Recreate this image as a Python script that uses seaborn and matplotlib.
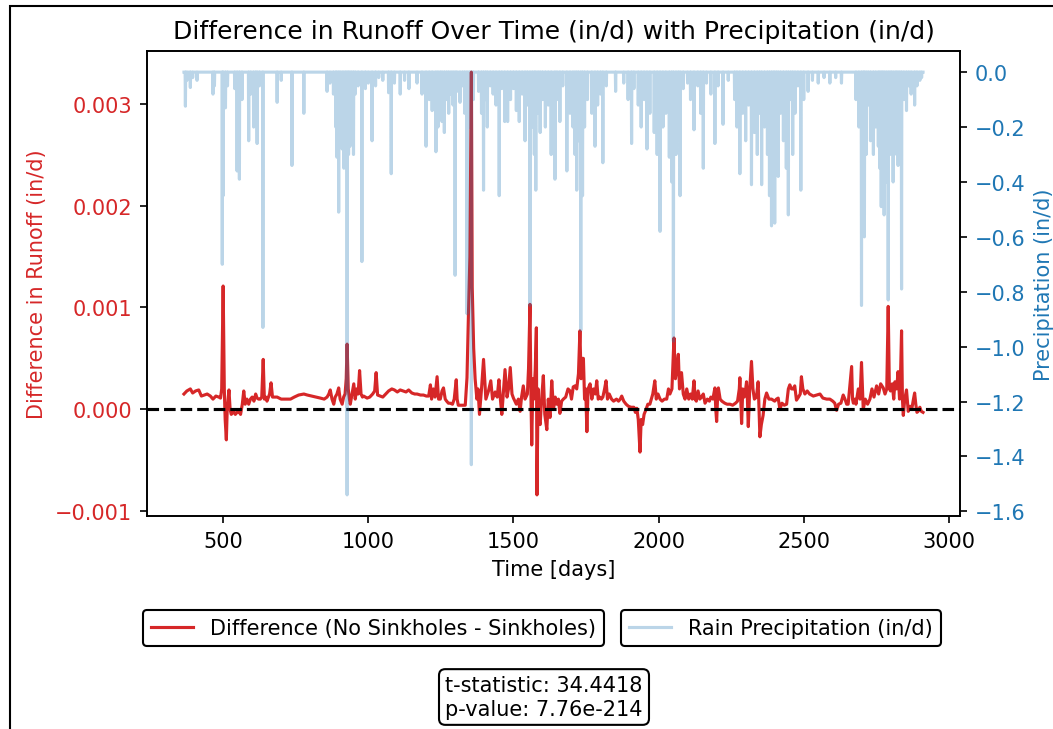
import numpy as np
import pandas as pd
import matplotlib
matplotlib.use('Agg')
import matplotlib.pyplot as plt
import seaborn as sns
from matplotlib.patches import Rectangle

# difference in runoff (no sinkholes - sinkholes), in units of 0.001 in/d
days_a = [365, 375, 387, 395, 405, 416, 425, 435, 445, 456,
          465, 475, 485, 491, 495, 500, 504, 507, 511, 514,
          517, 520, 524, 528, 531, 536, 542, 548, 554, 560,
          566, 571, 576, 582, 588, 594, 600, 606, 612, 617,
          622, 628, 633, 638, 642, 647, 651, 656, 660, 665,
          670, 676, 686, 700, 715, 732, 745, 760, 778, 790,
          805, 820, 835, 848, 858, 864, 869, 875, 881, 886,
          892, 898, 903, 910, 915, 920, 924, 927, 931, 935,
          938, 944, 950, 955, 960, 965, 970, 975, 980, 984,
          990]
vals_a = [.15, .18, .20, .16, .18, .19, .13, .14, .15, .13,
          .10, .13, .12, .11, .20, 1.21, .20, -.10, -.30, .00,
          .10, .19, .00, -.05, -.04, -.02, -.05, -.03, -.02, -.05,
          .05, .18, .05, .10, .05, .10, .12, .08, .15, .11,
          .10, .10, .12, .49, .10, .12, .08, .12, .15, .26,
          .12, .12, .12, .10, .10, .10, .12, .14, .15, .14,
          .13, .12, .11, .10, .12, .15, .19, .10, .05, .12,
          .15, .21, .10, .05, .12, .15, .30, .64, .20, .10,
          .05, .15, .25, .10, .20, .15, .38, .15, .12, .13,
          .12]

days_b = [996, 1005, 1015, 1022, 1027, 1032, 1041, 1050, 1060, 1070,
          1081, 1090, 1100, 1110, 1120, 1130, 1139, 1150, 1160, 1168,
          1180, 1190, 1200, 1208, 1214, 1218, 1224, 1230, 1237, 1242,
          1248, 1254, 1259, 1265, 1270, 1276, 1282, 1290, 1296, 1303,
          1306, 1310, 1318, 1326, 1334, 1340, 1345, 1350, 1355, 1358,
          1363, 1368, 1374, 1378]
vals_b = [.11, .12, .15, .18, .36, .14, .13, .12, .15, .18,
          .20, .19, .17, .19, .18, .17, .19, .16, .15, .15,
          .14, .14, .13, .13, .24, .10, .20, .12, .32, .10,
          .10, .18, .21, .10, .08, .06, .06, .05, .10, .29,
          .10, .04, .04, .04, .04, .31, .93, 1.5, 3.31, 1.2,
          .60, .30, .10, .20]

days_c = [1383, 1390, 1397, 1405, 1414, 1422, 1428, 1437, 1444, 1450,
          1455, 1460, 1465, 1471, 1478, 1483, 1489, 1495, 1500, 1510,
          1517, 1523, 1528, 1534, 1540, 1548, 1552, 1557, 1560, 1563,
          1567, 1570, 1575, 1579, 1581, 1585, 1588, 1592, 1597, 1603,
          1608, 1615, 1620, 1626, 1632, 1638, 1644, 1649]
vals_c = [-.05, .20, .49, .10, .18, .28, .10, .17, .12, .29,
          .10, -.05, .15, .39, .12, .20, .41, .15, .11, .05,
          .10, -.02, .12, .23, .10, .15, .40, 1.03, .20, -.35,
          .30, .10, .38, .80, -.84, .20, -.10, -.15, .10, .33,
          -.05, -.20, .10, -.08, .28, .00, .12, .05]

days_d = [1655, 1660, 1666, 1672, 1680, 1688, 1695, 1700, 1706, 1712,
          1718, 1724, 1729, 1733, 1737, 1741, 1745, 1749, 1753, 1757,
          1764, 1770, 1776, 1782, 1787, 1792, 1797, 1803, 1808, 1814,
          1819, 1824, 1830, 1838, 1845, 1855, 1862, 1868, 1873, 1880,
          1888, 1896, 1905, 1915, 1920, 1925, 1930, 1936, 1940, 1945,
          1950, 1957, 1963, 1970, 1975, 1980, 1987, 1992, 1998, 2005,
          2012, 2020, 2028, 2034]
vals_d = [.10, -.04, .08, .10, .12, .20, .18, .10, .22, .23,
          .20, .35, .77, .30, .50, .50, .10, .20, -.22, .20,
          .25, .10, .20, .15, .28, .10, .12, .10, .12, .20,
          .28, .10, .15, .10, .08, .10, .08, .10, .13, .08,
          .05, .03, .02, .02, -.03, .01, -.10, -.42, -.10, -.15,
          -.05, .00, .05, .05, .10, .15, .28, .10, .15, .10,
          .08, .10, .10, .20]

days_e = [2039, 2046, 2053, 2058, 2063, 2068, 2072, 2079, 2085, 2091,
          2097, 2104, 2110, 2116, 2122, 2126, 2130, 2136, 2142, 2148,
          2154, 2160, 2168, 2175, 2180, 2187, 2194, 2197, 2200, 2203,
          2206, 2212, 2218, 2228, 2236, 2246, 2255, 2265, 2272, 2278,
          2280, 2283, 2286, 2290, 2295, 2300, 2303, 2306, 2309, 2314,
          2320, 2325, 2330, 2337, 2343, 2346, 2349, 2354, 2360, 2366,
          2372]
vals_e = [.15, .20, .70, .30, .40, .54, .20, .36, .15, .10,
          .20, .10, .15, .10, .28, .10, .08, .18, .10, .12,
          .15, .06, .10, .08, .12, .10, .21, .00, -.12, .10,
          .21, .10, .08, .06, .05, .05, .04, .06, .08, .20,
          .31, .10, -.14, .20, .12, .20, .27, .10, -.17, .20,
          .47, .20, .10, .12, .27, .00, -.27, -.15, -.06, .10,
          .16]

days_f = [2380, 2389, 2400, 2406, 2412, 2418, 2425, 2433, 2441, 2447,
          2452, 2458, 2464, 2469, 2475, 2482, 2488, 2492, 2497, 2504,
          2512, 2520, 2533, 2545, 2556, 2566, 2579, 2590, 2600, 2607,
          2613, 2620, 2628, 2636, 2642, 2648, 2653, 2658, 2665, 2668,
          2671, 2676]
vals_f = [.10, .10, .08, .10, .11, .00, .06, .04, .05, .20,
          .24, .20, .20, .23, .09, .12, .15, .32, .20, .15,
          .18, .15, .13, .14, .15, .11, .10, .10, .08, .06,
          -.01, .05, .06, .14, .10, .05, .05, .20, .42, .10,
          .06, .10]

days_g = [2680, 2688, 2694, 2699, 2705, 2712, 2720, 2728, 2735, 2742,
          2751, 2758, 2765, 2774, 2780, 2786, 2791, 2795, 2799, 2805,
          2810, 2814, 2820, 2825, 2830, 2834, 2837, 2840, 2843, 2848,
          2854, 2860, 2866, 2872, 2878, 2882, 2886, 2890, 2894, 2900,
          2905, 2911]
vals_g = [.05, .20, .10, .46, .00, .10, .05, .10, .20, .12,
          .23, .15, .25, .21, .15, .20, 1.01, .20, .18, .25,
          .10, .27, .20, .37, .10, .40, .77, .10, -.06, .10,
          .19, -.02, .03, .00, .10, .16, .05, -.03, -.02, .02,
          -.02, -.03]

# rain events (day, depth in/d); every other day of the record is dry
rain_days = [370, 375, 387, 395, 410, 465, 470, 497, 500, 508, 515, 540, 548, 556, 565,
             588, 595, 605, 612, 617, 625, 637, 686, 700, 737, 778,
             858, 868, 880, 888, 892, 898, 903, 910, 916, 922, 927, 932, 937, 943, 949, 955,
             965, 978, 990, 1000, 1013, 1025, 1036, 1050, 1070, 1079, 1090, 1110, 1125, 1140,
             1168, 1185, 1199, 1210, 1220, 1233, 1240, 1248, 1254, 1262, 1270, 1277, 1285,
             1292, 1299, 1305, 1316, 1325, 1332, 1340, 1348, 1355, 1362, 1380, 1390, 1397,
             1404, 1410, 1420, 1430, 1440, 1451, 1460, 1470, 1480, 1490, 1500, 1510, 1520,
             1530, 1540, 1548, 1557, 1565, 1572, 1577, 1585, 1592, 1600, 1610, 1620, 1630,
             1643, 1650, 1660, 1670, 1684, 1695, 1705, 1712, 1718, 1724, 1732, 1738, 1745,
             1755, 1770, 1781, 1790, 1800, 1808, 1820, 1852, 1880, 1895, 1907, 1915, 1930,
             1940, 1950, 1960, 1970, 1985, 1995, 2005, 2015, 2025, 2037, 2045, 2051, 2060,
             2068, 2074, 2085, 2100, 2110, 2122, 2135, 2145, 2154, 2165, 2180, 2194, 2205,
             2222, 2240, 2262, 2270, 2280, 2290, 2300, 2310, 2320, 2330, 2340, 2348, 2355,
             2365, 2375, 2382, 2389, 2395, 2400, 2406, 2412, 2420, 2430, 2440, 2447, 2455,
             2462, 2470, 2480, 2490, 2500, 2515, 2530, 2550, 2570, 2590, 2610, 2630, 2680,
             2690, 2699, 2705, 2709, 2715, 2722, 2730, 2740, 2748, 2757, 2762, 2767, 2772,
             2777, 2784, 2791, 2797, 2802, 2808, 2815, 2820, 2825, 2831, 2837, 2845, 2854,
             2862, 2870, 2882, 2890, 2900, 2906]
rain_depth = [0.124, 0.03, 0.056, 0.02, 0.03, 0.08, 0.05, 0.70, 0.45, 0.13, 0.05, 0.06, 0.36, 0.39, 0.10,
              0.25, 0.08, 0.20, 0.10, 0.26, 0.05, 0.93, 0.11, 0.03, 0.34, 0.15,
              0.07, 0.04, 0.08, 0.20, 0.31, 0.51, 0.25, 0.28, 0.35, 0.15, 1.54, 0.30, 0.27, 0.12, 0.30, 0.08,
              0.05, 0.69, 0.06, 0.04, 0.25, 0.05, 0.02, 0.03, 0.075, 0.37, 0.04, 0.08, 0.03, 0.06,
              0.04, 0.08, 0.27, 0.10, 0.14, 0.29, 0.20, 0.12, 0.18, 0.22, 0.10, 0.15, 0.08,
              0.12, 0.74, 0.07, 0.11, 0.05, 0.15, 0.88, 0.20, 1.43, 0.10, 0.07, 0.15, 0.43,
              0.10, 0.20, 0.05, 0.08, 0.12, 0.45, 0.06, 0.18, 0.18, 0.10, 0.06, 0.14, 0.18,
              0.08, 0.25, 0.12, 0.85, 0.20, 0.30, 0.43, 0.15, 0.22, 0.10, 0.20, 0.12, 0.30,
              0.39, 0.10, 0.18, 0.05, 0.36, 0.15, 0.20, 0.30, 0.43, 0.25, 0.94, 0.45, 0.20,
              0.10, 0.15, 0.27, 0.12, 0.08, 0.33, 0.05, 0.07, 0.04, 0.10, 0.26, 0.06, 0.12,
              0.20, 0.10, 0.28, 0.15, 0.22, 0.30, 0.58, 0.20, 0.15, 0.31, 0.40, 0.98, 0.30,
              0.15, 0.45, 0.06, 0.04, 0.10, 0.21, 0.05, 0.15, 0.35, 0.04, 0.08, 0.26, 0.05,
              0.19, 0.03, 0.10, 0.20, 0.37, 0.15, 0.25, 0.12, 0.41, 0.22, 0.30, 0.15, 0.41,
              0.20, 0.30, 0.45, 0.56, 0.50, 0.55, 0.30, 0.38, 0.15, 0.25, 0.35, 0.52, 0.10,
              0.30, 0.15, 0.05, 0.43, 0.10, 0.07, 0.03, 0.04, 0.02, 0.04, 0.02, 0.04, 0.10,
              0.20, 0.85, 0.35, 0.60, 0.30, 0.12, 0.25, 0.30, 0.20, 0.27, 0.35, 0.49, 0.30,
              0.52, 0.40, 0.83, 0.30, 0.25, 0.40, 0.20, 0.30, 0.34, 0.15, 0.79, 0.10, 0.14,
              0.05, 0.08, 0.12, 0.05, 0.03, 0.02]

first_day, last_day = 365, 2911
t_stat = 34.4418
p_val = 7.76e-214

diff_days = days_a + days_b + days_c + days_d + days_e + days_f + days_g
diff_vals = np.array(vals_a + vals_b + vals_c + vals_d + vals_e + vals_f + vals_g) * 1e-3
diff_df = pd.DataFrame({'day': diff_days, 'diff': diff_vals})

days = np.arange(first_day, last_day + 1)
rain = pd.Series(0.0, index=days)
rain.loc[rain_days] = -np.array(rain_depth)   # precipitation drawn downward
rain_df = pd.DataFrame({'day': days, 'rain': rain.values})

dpi = 150
fig = plt.figure(figsize=(1053 / dpi, 730 / dpi), dpi=dpi)
ax1 = fig.add_axes([147 / 1053, 1 - 517 / 730, (960 - 147) / 1053, (517 - 52) / 730])

sns.lineplot(data=diff_df, x='day', y='diff', ax=ax1, color='tab:red', lw=1.5,
             estimator=None, label='Difference (No Sinkholes - Sinkholes)', legend=False)
ax1.axhline(0, color='black', ls='--', lw=1.5)
ax1.set_xlabel('Time [days]')
ax1.set_ylabel('Difference in Runoff (in/d)', color='tab:red')
ax1.tick_params(axis='y', labelcolor='tab:red')
ax1.set_title('Difference in Runoff Over Time (in/d) with Precipitation (in/d)')

ax2 = ax1.twinx()
sns.lineplot(data=rain_df, x='day', y='rain', ax=ax2, color='tab:blue', alpha=0.3, lw=1.5,
             estimator=None, label='Rain Precipitation (in/d)', legend=False)
ax2.set_ylabel('Precipitation (in/d)', color='tab:blue')
ax2.tick_params(axis='y', labelcolor='tab:blue')

ax1.legend(loc='center left', bbox_to_anchor=(143 / 1053, 1 - 629 / 730),
           bbox_transform=fig.transFigure, borderaxespad=0, edgecolor='black', framealpha=1)
ax2.legend(loc='center left', bbox_to_anchor=(621 / 1053, 1 - 629 / 730),
           bbox_transform=fig.transFigure, borderaxespad=0, edgecolor='black', framealpha=1)

fig.text(544 / 1053, 1 - 698 / 730, f't-statistic: {t_stat:.4f}\np-value: {p_val:.2e}',
         ha='center', va='center', multialignment='left',
         bbox=dict(boxstyle='round', facecolor='white', edgecolor='black'))

# screenshot frame around the output
fig.add_artist(Rectangle((9.5 / 1053, -0.1), 1.2, 1.1 - 6.5 / 730, transform=fig.transFigure,
                         fill=False, edgecolor='black', lw=1.0))

fig.savefig('out.png', dpi=dpi)
